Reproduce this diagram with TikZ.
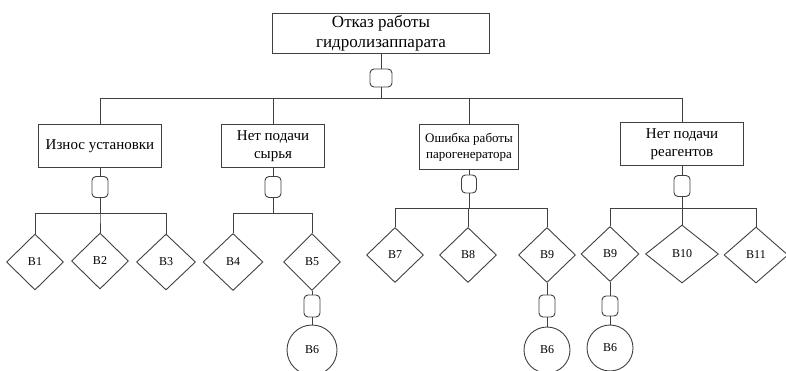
\documentclass[tikz,border=0pt]{standalone}
\usepackage{fontspec}
\setmainfont{Liberation Serif}
\usetikzlibrary{shapes}
\tikzset{%
  event/.style={draw=black!75, line width=0.9pt, rectangle, align=center,
    font=\fontsize{15}{18}\selectfont, minimum height=43pt, inner sep=2pt},% intermediate event
  topevent/.style={event, font=\fontsize{17}{20}\selectfont, minimum width=217pt,
    minimum height=40pt},% top event
  gate/.style={draw=black!75, line width=0.9pt, rectangle, rounded corners=4pt,
    minimum width=16pt, minimum height=21pt, inner sep=0pt},% AND gate
  basic/.style={draw=black!75, line width=0.9pt, diamond, minimum width=57pt,
    minimum height=56pt, inner sep=0pt, font=\fontsize{12}{14}\selectfont},% basic event
  repeated/.style={draw=black!75, line width=0.9pt, circle, minimum size=46pt,
    inner sep=0pt, font=\fontsize{12}{14}\selectfont},% repeated event
  link/.style={draw=black!75, line width=0.9pt}% connecting lines
}
\begin{document}
\begin{tikzpicture}[x=1pt, y=-1pt]
  \useasboundingbox (0,0) rectangle (786,371);
  % Top event and its gate:
  \node[topevent] (E0) at (381,33) {Отказ работы\\гидролизаппарата};
  \node[gate, minimum width=22pt, minimum height=18pt] (G0) at (381,78) {};
  % Intermediate events with their gates:
  \node[event, minimum width=123pt] (E1) at (100,146) {Износ установки};
  \node[event, minimum width=103pt] (E2) at (273,146) {Нет подачи\\сырья};
  \node[event, minimum width=99pt, minimum height=45pt,
    font=\fontsize{13}{16}\selectfont] (E3) at (469,147) {Ошибка работы\\парогенератора};
  \node[event, minimum width=123pt] (E4) at (682,144) {Нет подачи\\реагентов};
  \node[gate] (G1) at (100,187) {};
  \node[gate] (G2) at (273,187) {};
  \node[gate, minimum width=15pt, minimum height=18pt] (G3) at (469,184) {};
  \node[gate] (G4) at (682,186) {};
  % Basic events:
  \node[basic] (B1) at (35,262) {В1};
  \node[basic] (B2) at (100,261) {В2};
  \node[basic, minimum width=59pt] (B3) at (166,262) {В3};
  \node[basic, minimum width=60pt, minimum height=57pt] (B4) at (233,262) {В4};
  \node[basic, minimum height=57pt] (B5) at (312,262) {В5};
  \node[basic, minimum height=55pt] (B7) at (395,255) {В7};
  \node[basic, minimum height=55pt] (B8) at (468,255) {В8};
  \node[basic, minimum height=55pt] (B9a) at (547,255) {В9};
  \node[basic, minimum width=58pt, minimum height=55pt] (B9b) at (610,254) {В9};
  \node[basic, minimum width=73pt, minimum height=58pt] (B10) at (682,254) {В10};
  \node[basic, minimum width=64pt] (B11) at (756,255) {В11};
  % Gates under B5 and B9, and the repeated event B6:
  \node[gate, minimum height=22pt] (G5) at (312,306) {};
  \node[gate, minimum height=22pt] (G6) at (547,306) {};
  \node[gate, minimum height=20pt] (G7) at (610,306) {};
  \node[repeated, minimum size=50pt] (C1) at (312,350) {В6};
  \node[repeated] (C2) at (547,350) {В6};
  \node[repeated] (C3) at (610,348) {В6};
  % Connect by lines:
  \draw[link] (E0) -- (G0);
  \foreach \e in {E1,E2,E3,E4}
    \draw[link] (G0.south) -- ++(0,11) -| (\e.north);
  \foreach \e/\g in {E1/G1, E2/G2, E3/G3, E4/G4}
    \draw[link] (\e) -- (\g);
  \foreach \b in {B1,B2,B3}
    \draw[link] (G1.south) -- ++(0,16) -| (\b.north);
  \foreach \b in {B4,B5}
    \draw[link] (G2.south) -- ++(0,16) -| (\b.north);
  \foreach \b in {B7,B8,B9a}
    \draw[link] (G3.south) -- ++(0,15) -| (\b.north);
  \foreach \b in {B9b,B10,B11}
    \draw[link] (G4.south) -- ++(0,12) -| (\b.north);
  \draw[link] (B5) -- (G5) -- (C1);
  \draw[link] (B9a) -- (G6) -- (C2);
  \draw[link] (B9b) -- (G7) -- (C3);
\end{tikzpicture}
\end{document}
